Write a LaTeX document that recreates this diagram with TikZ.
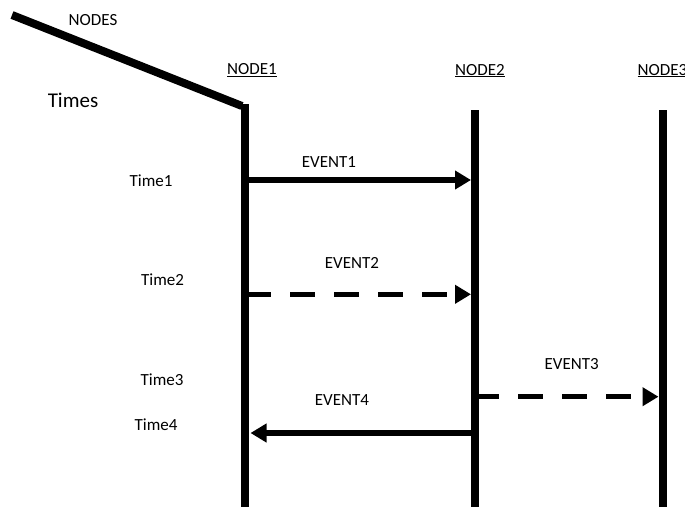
\documentclass[tikz,border=0pt]{standalone}
\usepackage{fontspec}
\setmainfont{Carlito}
\usetikzlibrary{arrows.meta}
\tikzset{
  lifeline/.style={line width=8pt},
  msg/.style={line width=5.5pt,-{Triangle[length=16pt,width=18pt]}},
  msgdash/.style={msg,dash pattern=on 25pt off 19pt},
  lbl/.style={font=\fontsize{17}{20}\selectfont,inner sep=0pt,anchor=base}
}
\begin{document}
\begin{tikzpicture}[x=1pt,y=-1pt]
  \useasboundingbox (0,0) rectangle (685,507);
  % lifelines
  \coordinate (s) at (12,15);
  \coordinate (n1top) at (245,104);
  \coordinate (n1bot) at (245,507);
  \coordinate (n2top) at (475,110);
  \coordinate (n2bot) at (475,507);
  \coordinate (n3top) at (663,110);
  \coordinate (n3bot) at (663,507);
  \draw[lifeline] (s) -- (242,106);
  \draw[lifeline] (n1top) -- (n1bot);
  \draw[lifeline] (n2top) -- (n2bot);
  \draw[lifeline] (n3top) -- (n3bot);
  % labels
  \draw
    (93,25) node[lbl] (nodes){NODES}
    (252,74.5) node[lbl] (n1){\underline{NODE1}}
    (480,75) node[lbl] (n2){\underline{NODE2}}
    (662.5,75) node[lbl] (n3){\underline{NODE3}}
    (73,107.7) node[lbl,font=\fontsize{21}{24}\selectfont] (times){Times}
    (151,186.7) node[lbl] (t1){Time1}
    (162.5,285) node[lbl] (t2){Time2}
    (162,385.7) node[lbl] (t3){Time3}
    (156,430) node[lbl] (t4){Time4}
    (329,167.7) node[lbl] (e1){EVENT1}
    (352,268.3) node[lbl] (e2){EVENT2}
    (571.7,369.3) node[lbl] (e3){EVENT3}
    (342,405) node[lbl] (e4){EVENT4};
  % events
  \coordinate (a1) at (246,180);
  \coordinate (b1) at (471,180);
  \coordinate (a2) at (246,294.3);
  \coordinate (b2) at (471,294.3);
  \coordinate (a3) at (474,396.7);
  \coordinate (b3) at (658.5,396.7);
  \coordinate (a4) at (472,433);
  \coordinate (b4) at (250.5,433);
  \begin{scope}
    \draw[msg] (a1) to (b1);
    \draw[msgdash] (a2) to (b2);
    \draw[msgdash] (a3) to (b3);
    \draw[msg] (a4) to (b4);
  \end{scope}
\end{tikzpicture}
\end{document}
